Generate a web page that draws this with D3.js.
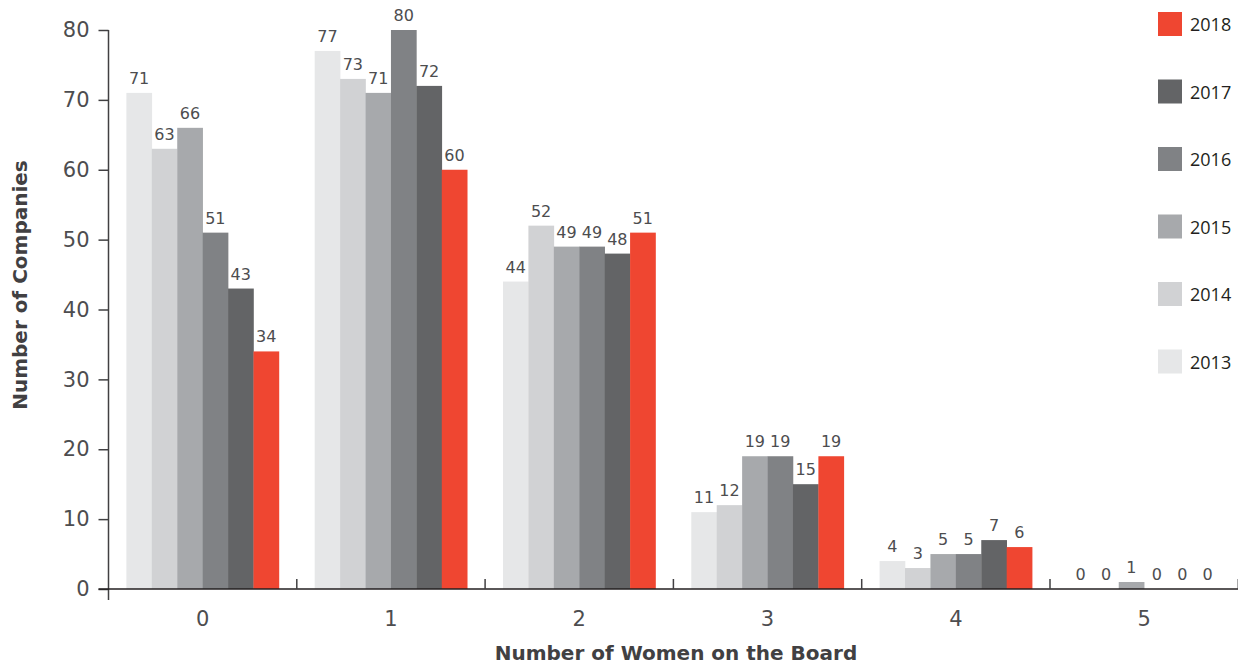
<!DOCTYPE html>
<html>
<head>
<meta charset="utf-8">
<script src="https://cdn.jsdelivr.net/npm/d3@7"></script>
<style>
  body { margin: 0; background: #fff; }
  text { font-family: "DejaVu Sans", sans-serif; }
</style>
</head>
<body>
<div id="chart"></div>
<script>
// Chart data
var categories = ["0", "1", "2", "3", "4", "5"];
var years = ["2013", "2014", "2015", "2016", "2017", "2018"];
var values2013 = [71, 77, 44, 11, 4, 0];
var values2014 = [63, 73, 52, 12, 3, 0];
var values2015 = [66, 71, 49, 19, 5, 1];
var values2016 = [51, 80, 49, 19, 5, 0];
var values2017 = [43, 72, 48, 15, 7, 0];
var values2018 = [34, 60, 51, 19, 6, 0];
var yTicks = [0, 10, 20, 30, 40, 50, 60, 70, 80];

var colors = ["#e6e7e8", "#d1d2d4", "#a7a9ac", "#808285", "#636466", "#ef4631"];
var series = [values2013, values2014, values2015, values2016, values2017, values2018];

var svgWidth = 1238;
var svgHeight = 664;
var margin = { top: 30, right: 0, bottom: 75, left: 108.5 };
var width = 1050 - margin.left + 188.3;
var height = 589 - margin.top;

var svg = d3.select("#chart")
  .append("svg")
  .attr("width", svgWidth)
  .attr("height", svgHeight);

var chartGroup = svg.append("g")
  .attr("transform", `translate(${margin.left}, ${margin.top})`);

// Scales
var xScale = d3.scaleBand()
  .domain(categories)
  .range([0, width])
  .paddingInner(0.19)
  .paddingOuter(0.095);

var xSub = d3.scaleBand()
  .domain(years)
  .range([0, xScale.bandwidth()]);

var yScale = d3.scaleLinear()
  .domain([0, 80])
  .range([height, 0]);

// Bars
var rows = [];
categories.forEach(function(c, i) {
  years.forEach(function(y, j) {
    rows.push({ cat: c, year: y, value: series[j][i], color: colors[j] });
  });
});

chartGroup.selectAll("rect.bar")
  .data(rows)
  .enter()
  .append("rect")
  .attr("class", "bar")
  .attr("x", d => xScale(d.cat) + xSub(d.year))
  .attr("y", d => yScale(d.value))
  .attr("width", xSub.bandwidth() + 0.3)
  .attr("height", d => height - yScale(d.value))
  .attr("fill", d => d.color);

// Value labels
chartGroup.selectAll("text.val")
  .data(rows)
  .enter()
  .append("text")
  .attr("class", "val")
  .attr("x", d => xScale(d.cat) + xSub(d.year) + xSub.bandwidth() / 2)
  .attr("y", d => yScale(d.value) - 9)
  .attr("text-anchor", "middle")
  .attr("font-size", "16px")
  .attr("fill", "#4d4d4f")
  .text(d => d.value);

// Y axis
var leftAxis = d3.axisLeft(yScale).tickValues(yTicks).tickSize(10).tickPadding(9);
var yAxisG = chartGroup.append("g").call(leftAxis);
yAxisG.select(".domain").attr("d", `M0,0V${height + 11}`).attr("stroke", "#414042").attr("stroke-width", 1.5);
yAxisG.selectAll(".tick line").attr("stroke", "#414042").attr("stroke-width", 1.5);
yAxisG.selectAll(".tick text")
  .attr("font-size", "21px")
  .attr("fill", "#4d4d4f")
  .style("font-family", "'DejaVu Sans', sans-serif");

// X axis: ticks at category boundaries
var xAxisG = chartGroup.append("g").attr("transform", `translate(0, ${height})`);
xAxisG.append("line")
  .attr("x1", -10).attr("x2", width)
  .attr("stroke", "#231f20").attr("stroke-width", 1.5);
var step = xScale.step();
var bounds = d3.range(1, categories.length + 1).map(i => i * step);
xAxisG.selectAll("line.sep")
  .data(bounds)
  .enter()
  .append("line")
  .attr("class", "sep")
  .attr("x1", d => d).attr("x2", d => d)
  .attr("y1", 0).attr("y2", -10)
  .attr("stroke", "#414042").attr("stroke-width", 1.5);
xAxisG.selectAll("text.cat")
  .data(categories)
  .enter()
  .append("text")
  .attr("class", "cat")
  .attr("x", d => xScale(d) + xScale.bandwidth() / 2)
  .attr("y", 37)
  .attr("text-anchor", "middle")
  .attr("font-size", "21px")
  .attr("fill", "#4d4d4f")
  .text(d => d);

// Axis titles
chartGroup.append("text")
  .attr("transform", "rotate(-90)")
  .attr("x", -(285 - margin.top))
  .attr("y", -margin.left + 27)
  .attr("text-anchor", "middle")
  .attr("font-size", "20px")
  .attr("font-weight", "bold")
  .attr("fill", "#414042")
  .text("Number of Companies");

chartGroup.append("text")
  .attr("x", 676 - margin.left)
  .attr("y", height + 71)
  .attr("text-anchor", "middle")
  .attr("font-size", "20px")
  .attr("font-weight", "bold")
  .attr("fill", "#414042")
  .text("Number of Women on the Board");

// Legend (2018 at top)
var legendYears = years.slice().reverse();
var legend = svg.append("g").attr("transform", "translate(1158, 12)");
var item = legend.selectAll("g.item")
  .data(legendYears)
  .enter()
  .append("g")
  .attr("class", "item")
  .attr("transform", (d, i) => `translate(0, ${i * 67.5})`);
item.append("rect")
  .attr("width", 24).attr("height", 24)
  .attr("fill", d => colors[years.indexOf(d)]);
item.append("text")
  .attr("x", 32).attr("y", 19)
  .attr("font-size", "18px")
  .attr("fill", "#231f20")
  .style("font-family", "'Open Sans', 'Noto Sans', sans-serif")
  .text(d => d);
</script>
</body>
</html>
